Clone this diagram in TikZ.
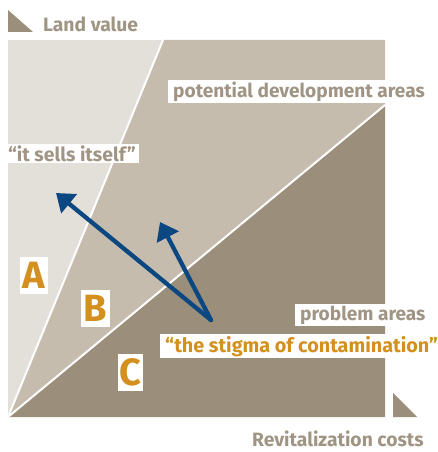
\documentclass[tikz,border=0pt]{standalone}
\usepackage{fontspec}
\setmainfont{Fira Sans}
\usetikzlibrary{arrows.meta}
\definecolor{regA}{HTML}{E3DFD9}
\definecolor{regB}{HTML}{C6BCAE}
\definecolor{regC}{HTML}{9B8E7A}
\definecolor{graytxt}{HTML}{A09584}
\definecolor{ochre}{HTML}{D4901F}
\definecolor{navy}{HTML}{0B4780}
\begin{document}
\begin{tikzpicture}[x=1pt,y=-1pt,
  axislbl/.style={font=\bfseries\fontsize{19.3}{21}\selectfont, text=graytxt, inner sep=0pt, anchor=base west},
  arealbl/.style={font=\bfseries\fontsize{19.1}{21}\selectfont, text=graytxt, fill=white, inner xsep=5pt, inner ysep=1.5pt, anchor=base west},
  stigma/.style={font=\bfseries\fontsize{19.8}{21}\selectfont, text=ochre, fill=white, inner xsep=5pt, inner ysep=1.5pt, anchor=base west},
  letterbox/.style={font=\bfseries\fontsize{38}{40}\selectfont, text=ochre, fill=white, inner sep=0pt, minimum height=37pt},
  trend/.style={draw=navy, line width=4.3pt, line join=round, line cap=round, -{Triangle[length=17pt,width=24pt]}}
]
\useasboundingbox (0,0) rectangle (437,452);
% regions
\fill[regA] (8,40) rectangle (385,417);
\fill[regB] (8,417) -- (163,40) -- (385,40) -- (385,105) -- cycle;
\fill[regC] (8,417) -- (385,105) -- (385,417) -- cycle;
\draw[white, line width=2pt] (163,40) -- (8,417) -- (385,105);
% axis triangles
\fill[regC] (8,10) -- (8,32) -- (33,32) -- cycle;
\fill[regC] (393,393) -- (393,417) -- (417,417) -- cycle;
% axis labels
\node[axislbl] (lv) at (43,32) {Land value};
\node[axislbl] (rc) at (252,446) {Revitalization costs};
% area labels
\node[arealbl] (pda) at (168,97) {potential development areas};
\node[arealbl, inner xsep=3pt, font=\bfseries\fontsize{19.4}{21}\selectfont] (sells) at (5,161) {“it sells itself”};
\node[arealbl] (pa) at (295,320) {problem areas};
\node[stigma] (stig) at (160,352) {“the stigma of contamination”};
% letters
\node[letterbox, minimum width=28pt] (A) at (34,275.5) {A};
\node[letterbox, minimum width=29pt] (B) at (95.5,308) {B};
\node[letterbox, minimum width=25pt] (C) at (130.5,372) {C};
% arrows
\coordinate (v) at (211,320);
\coordinate (t1) at (56,193);
\coordinate (t2) at (160,222);
\draw[trend] (v) -- (t1);
\draw[trend] (v) -- (t2);
\end{tikzpicture}
\end{document}
